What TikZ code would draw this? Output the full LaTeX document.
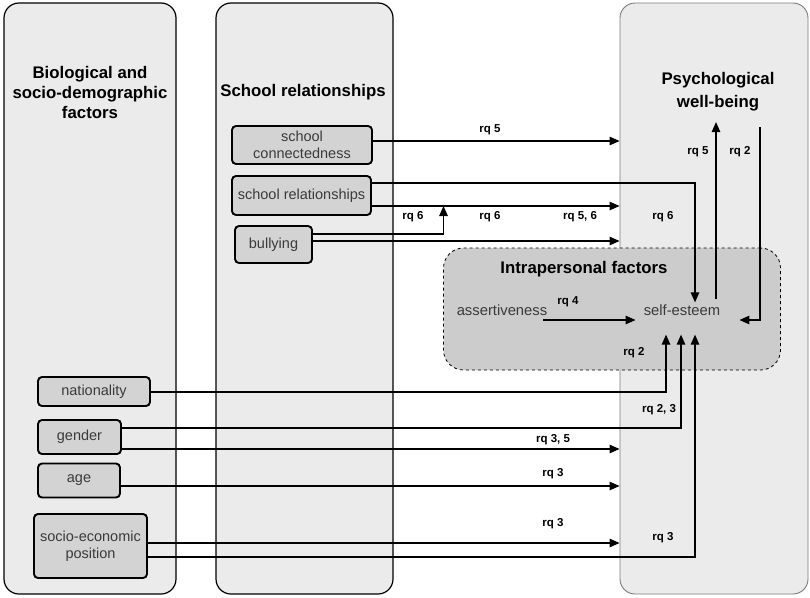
\documentclass[tikz,border=0pt]{standalone}
\usepackage{fontspec}
\setmainfont{Liberation Sans}
\usetikzlibrary{arrows.meta}
\definecolor{colfill}{HTML}{EBEBEB}
\definecolor{boxfill}{HTML}{D3D3D3}
\definecolor{intfill}{HTML}{CCCCCC}
\definecolor{txtgray}{HTML}{3A3A3A}
\definecolor{rborder}{HTML}{7A7A7A}
\begin{document}
\begin{tikzpicture}[x=1pt,y=-1pt,
  colbox/.style={draw, rounded corners=15pt, fill=colfill, line width=1.2pt, inner sep=0pt},
  factor/.style={draw, line width=1.9pt, rounded corners=4pt, fill=boxfill, text=txtgray,
    font=\fontsize{14.5}{17}\selectfont, align=center, inner sep=0pt},
  title/.style={font=\bfseries\fontsize{16.8}{20}\selectfont, align=center, inner sep=0pt},
  rq/.style={font=\bfseries\fontsize{11.5}{13}\selectfont, inner sep=0pt},
  arr/.style={line width=1.2pt, -{Triangle[length=10pt,width=8.5pt]}},
  var/.style={font=\fontsize{14.8}{17}\selectfont, text=txtgray, inner sep=1pt},
  intbox/.style={draw, dashed, line width=0.8pt, rounded corners=20pt, fill=intfill, inner sep=0pt}
]
\useasboundingbox (0,0) rectangle (810,597);

% columns
\node[colbox, minimum width=172pt, minimum height=591pt] (colL) at (90,298.5) {};
\node[colbox, minimum width=177pt, minimum height=591pt] (colM) at (304.5,298.5) {};
\node[colbox, draw=rborder, line width=0.9pt, minimum width=188pt, minimum height=591pt] (colR) at (714,298.5) {};

% titles
\node[title] (tL) at (90,92) {Biological and\\socio-demographic\\factors};
\node[title] (tM) at (303,92) {School relationships};
\node[title, font=\bfseries\fontsize{16.8}{23}\selectfont] (pw) at (718,91.5) {Psychological\\well-being};

% intrapersonal box
\node[intbox, minimum width=337pt, minimum height=122pt] (ib) at (612,309) {};
\node[title] (tI) at (584,269) {Intrapersonal factors};
\node[var] (as) at (502,310) {assertiveness};
\node[var] (es) at (682,310) {self-esteem};

% factor boxes
\node[factor, minimum width=140pt, minimum height=38pt] (sc) at (302,145) {school\\connectedness};
\node[factor, minimum width=139pt, minimum height=39pt] (sr) at (301.5,195.5) {school relationships};
\node[factor, minimum width=77pt, minimum height=37pt] (bu) at (273.5,244.5) {bullying};
\node[factor, minimum width=112pt, minimum height=29pt] (na) at (94,391.5) {nationality};
\node[factor, minimum width=83pt, minimum height=34pt] (ge) at (79.5,437) {gender};
\node[factor, minimum width=82pt, minimum height=34pt] (ag) at (79,480.5) {age};
\node[factor, minimum width=113pt, minimum height=64pt] (sep) at (90.5,546) {socio-economic\\position};

% connectors: school relationships column
\draw[arr] ([yshift=4pt]sc.east) -- ([yshift=4pt]sc.east -| colR.west);
\draw[arr] ([yshift=12.5pt]sr.east) -| ([xshift=13pt,yshift=1pt]es.north);
\draw[arr] ([yshift=-10.5pt]sr.east) -- ([yshift=-10.5pt]sr.east -| colR.west)
  coordinate[pos=0.289] (j);
\draw[arr] ([yshift=10.5pt]bu.east) -| (j);
\draw[arr] ([yshift=3.5pt]bu.east) -- ([yshift=3.5pt]bu.east -| colR.west);

% intrapersonal and well-being
\draw[arr] ([xshift=34pt,yshift=4pt]es.north) -- ([xshift=-2pt,yshift=-11pt]pw.south);
\draw[arr] ([xshift=42pt,yshift=-16pt]pw.south) |- ([xshift=18pt,yshift=-10pt]es.east);
\draw[arr] ([xshift=-5pt,yshift=-10pt]as.east) -- ([xshift=-7pt,yshift=-10pt]es.west);

% biological factors
\draw[arr] ([yshift=-0.5pt]na.east) -| ([xshift=-16pt,yshift=-18pt]es.south);
\draw[arr] ([yshift=9pt]ge.east) -| ([xshift=-1pt,yshift=-18pt]es.south);
\draw[arr] ([yshift=-12pt]ge.east) -- ([yshift=-12pt]ge.east -| colR.west);
\draw[arr] ([yshift=-5.5pt]ag.east) -- ([yshift=-5.5pt]ag.east -| colR.west);
\draw[arr] ([yshift=3pt]sep.east) -- ([yshift=3pt]sep.east -| colR.west);
\draw[arr] ([yshift=-11pt]sep.east) -| ([xshift=13pt,yshift=-18pt]es.south);

% labels
\node[rq] (l1) at (490,130) {rq 5};
\node[rq] (l2) at (413,217) {rq 6};
\node[rq] (l3) at (490,217) {rq 6};
\node[rq] (l4) at (580,217) {rq 5, 6};
\node[rq] (l5) at (663,217) {rq 6};
\node[rq] (l6) at (698,152) {rq 5};
\node[rq] (l7) at (740,152) {rq 2};
\node[rq] (l8) at (568,302) {rq 4};
\node[rq] (l9) at (634,353) {rq 2};
\node[rq] (l10) at (659,410) {rq 2, 3};
\node[rq] (l11) at (553,440) {rq 3, 5};
\node[rq] (l12) at (553,474) {rq 3};
\node[rq] (l13) at (553,524) {rq 3};
\node[rq] (l14) at (663,538) {rq 3};
\end{tikzpicture}
\end{document}
